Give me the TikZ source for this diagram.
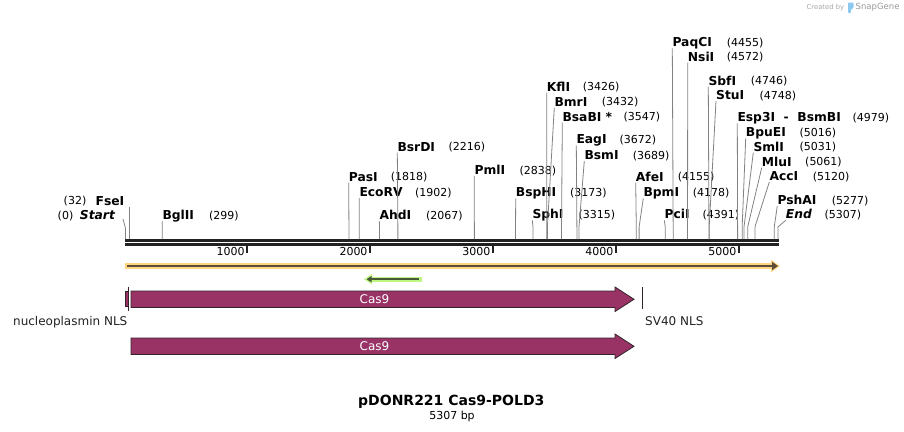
\documentclass[tikz,border=0pt]{standalone}
\usepackage{fontspec}
\setmainfont{DejaVu Sans}
\usepackage{tikz}
\usetikzlibrary{arrows.meta}

\definecolor{featfill}{RGB}{153,51,102}
\definecolor{featline}{RGB}{51,34,43}
\definecolor{rulerline}{RGB}{34,34,34}
\definecolor{cutgray}{RGB}{130,130,130}
\definecolor{orfglow}{RGB}{255,212,128}
\definecolor{orfcore}{RGB}{92,78,56}
\definecolor{primglow}{RGB}{190,246,130}
\definecolor{primcore}{RGB}{72,88,56}
\definecolor{sgblue}{RGB}{140,200,240}

\tikzset{
  enzname/.style={anchor=west,inner sep=0pt,text height=8.9pt,text depth=0pt,font=\fontsize{12.3}{14}\selectfont\bfseries},
  enzpos/.style={anchor=west,inner sep=0pt,text height=8pt,text depth=0pt,font=\fontsize{11}{13}\selectfont},
  cutline/.style={cutgray,line width=0.8pt},
  feat/.style={draw=featline,fill=featfill,line width=0.8pt},
  featlbl/.style={inner sep=0pt,text height=8.75pt,text depth=0pt,text=black!87,font=\fontsize{12}{14}\selectfont},
  ticklbl/.style={anchor=east,inner sep=0pt,text height=8pt,text depth=0pt,font=\fontsize{11}{13}\selectfont}
}

\begin{document}
\begin{tikzpicture}[x=1pt,y=-1pt]
\useasboundingbox (0,0) rectangle (904,431);

% ruler
\draw[rulerline,line width=3pt] (125,240.5) -- (779,240.5);
\draw[rulerline,line width=3pt] (125,244.5) -- (779,244.5);
\foreach \t in {1,...,5} {
  \draw[rulerline,line width=2pt] ({124.3+122.95*\t},246) -- ++(0,6.7);
  \node[ticklbl] (t\t) at ({124.3+122.95*\t-2.5},251.7) {\t000};
}

% enzyme sites
\coordinate (s0) at (125.4,239);
\coordinate (b0) at (125.4,228);
\node[enzname,anchor=east] (estart) at (115.5,215) {\textit{Start}};
\node[enzpos,anchor=east] (nstart) at (73.5,215) {(0)};
\draw[cutline] (estart.east) ++(7.5,4) -- (b0) -- (s0);
\coordinate (sfse) at (129.3,239);
\node[enzname,anchor=east] (efse) at (124.5,200.7) {FseI};
\node[enzpos,anchor=east] (nfse) at (86.5,200.7) {(32)};
\draw[cutline] (efse.east) ++(4.8,6) -- (sfse);

\foreach \nm/\lx/\ly/\p/\nx [count=\i] in {
  BglII/162.3/215/299/209,
  PasI/348.7/176.7/1818/390.7,
  EcoRV/359.3/192/1902/415,
  AhdI/379.3/215/2067/426,
  BsrDI/397.3/146.7/2216/448.3,
  PmlI/474.3/170/2838/519.3,
  BspHI/515.7/192.3/3173/570,
  SphI/532.3/214.3/3315/578.3,
  KflI/546.7/86.7/3426/582.7,
  BmrI/554.3/101.7/3432/601.7,
  BsaBI */562.3/116.7/3547/623.3,
  EagI/576.3/139.3/3672/619.3,
  BsmI/584.3/155/3689/632.7,
  AfeI/635.7/176.7/4155/677.7,
  BpmI/643.3/192.3/4178/692.7,
  PciI/664.3/214.3/4391/702.3,
  PaqCI/672.3/42.3/4455/726.7,
  NsiI/687.7/56.7/4572/726.7,
  SbfI/708.3/80.7/4746/750.7,
  StuI/716/95/4748/759.3,
  Esp3I~ - ~BsmBI/737.3/117.3/4979/852.3,
  BpuEI/745.7/132.3/5016/799.3,
  SmlI/753.3/146.7/5031/799.3,
  MluI/761.7/161.7/5061/805,
  AccI/769.3/176/5120/812.7,
  PshAI/777.3/200/5277/831.7,
  \textit{End}/785.7/214.3/5307/824.3} {
  \coordinate (s\i) at ({125.4+0.12295*\p},239);
  \coordinate (b\i) at ({125.4+0.12295*\p},227);
  \node[enzname] (e\i) at (\lx,\ly) {\nm};
  \node[enzpos] (n\i) at (\nx,\ly) {(\p)};
  \draw[cutline] (e\i.west) ++(0,6) -- (b\i) -- (s\i);
}

% ORF and primer
\draw[orfglow,line width=6pt,-{Triangle[length=9pt,width=12pt]}] (125,266) -- (780,266);
\draw[orfcore,line width=2pt,-{Triangle[length=6pt,width=8pt]}] (127,266) -- (778,266);
\draw[primglow,line width=5pt,-{Triangle[length=8pt,width=10pt]}] (421.5,279.2) -- (364,279.2);
\draw[primcore,line width=1.5pt,-{Triangle[length=5pt,width=6pt]}] (418.5,279.2) -- (366.5,279.2);

% features
\draw[feat] (131,291) -- (615,291) -- (615,287) -- (634,299.3) -- (615,311.5) -- (615,307.5) -- (131,307.5) -- cycle;
\node[featlbl,text=white] (cas9a) at (374.5,299.3) {Cas9};
\draw[feat,line width=0.6pt] (125,291) rectangle (128,306.5);
\draw[featline,line width=0.8pt] (128.3,286.7) -- (128.3,310.7);
\node[featlbl,anchor=east] (nlsa) at (127.5,320.7) {nucleoplasmin NLS};
\draw[featline,line width=1pt] (642.7,287) -- (642.7,308.5);
\node[featlbl,anchor=west] (nlsb) at (645,320.7) {SV40 NLS};

\draw[feat] (131,338) -- (615,338) -- (615,334) -- (634,346.3) -- (615,358.5) -- (615,354.5) -- (131,354.5) -- cycle;
\node[featlbl,text=white] (cas9b) at (374.5,346.3) {Cas9};

% title
\node[inner sep=0pt,text height=10.2pt,text depth=0pt,font=\fontsize{14}{16}\selectfont\bfseries] (title) at (451.3,400.6) {pDONR221 Cas9-POLD3};
\node[inner sep=0pt,text height=8pt,text depth=0pt,font=\fontsize{11}{13}\selectfont] (size) at (452,415.3) {5307 bp};

% watermark
\node[anchor=west,inner sep=0pt,text=black!35,font=\fontsize{6.8}{8}\selectfont] (cby) at (806.5,7.5) {Created by};
\fill[sgblue,rounded corners=0.8pt] (848,2.5) -- (853.5,2.5) -- (853.5,8) -- (850.8,9.5) -- (850.8,13) -- (848,13) -- cycle;
\node[anchor=west,inner sep=0pt,text=black!40,font=\fontsize{8.5}{10}\selectfont] (sg) at (855.5,7.5) {SnapGene};
\end{tikzpicture}
\end{document}
